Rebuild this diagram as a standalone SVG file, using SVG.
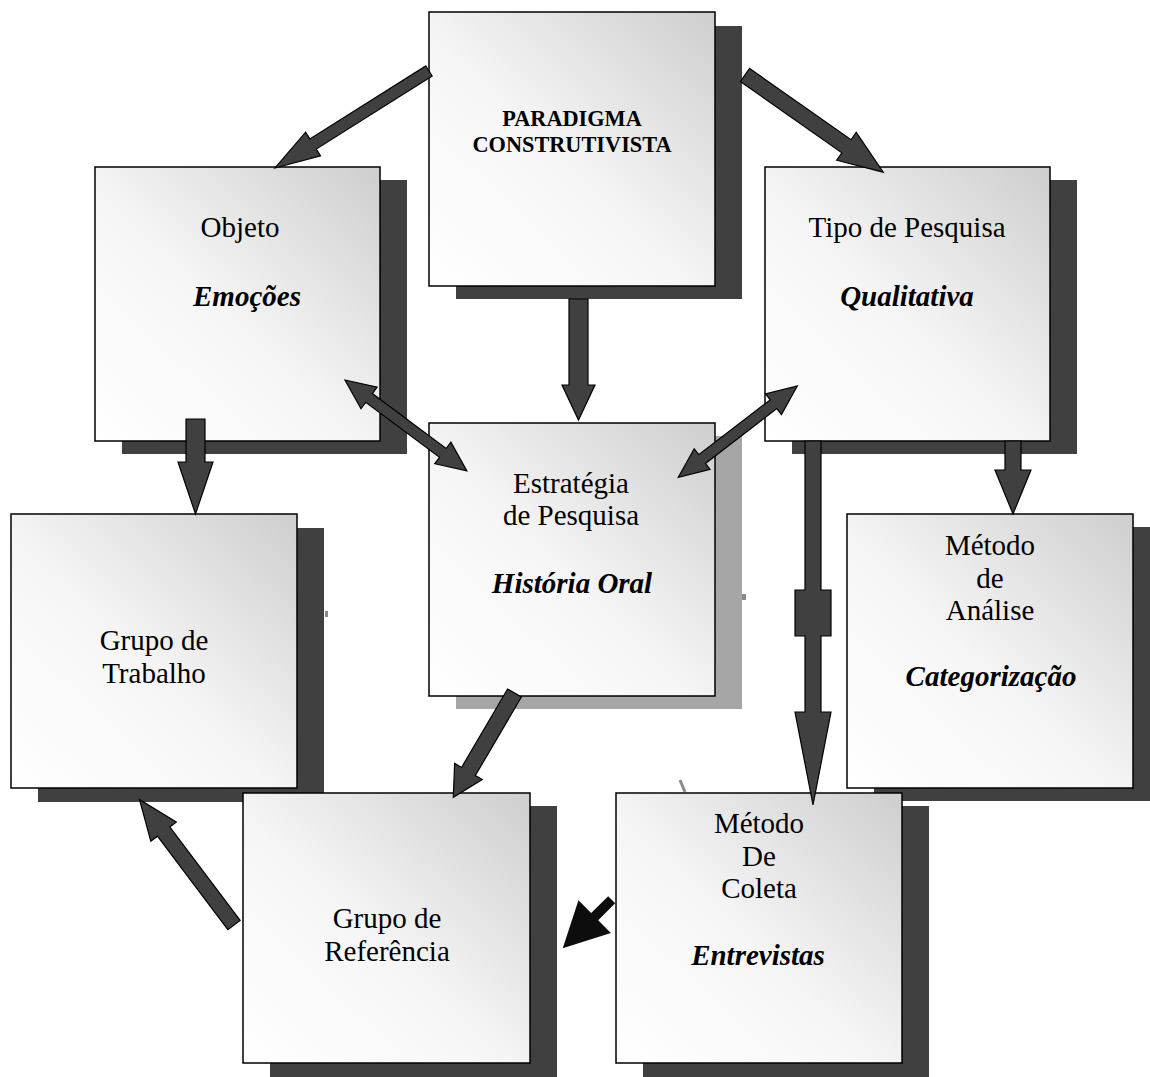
<svg xmlns="http://www.w3.org/2000/svg" width="1150" height="1077" viewBox="0 0 1150 1077">
<defs>
<linearGradient id="g" x1="0" y1="1" x2="1" y2="0">
<stop offset="0" stop-color="#ffffff"/>
<stop offset="0.45" stop-color="#f6f6f6"/>
<stop offset="1" stop-color="#cecece"/>
</linearGradient>
<style>
.sh{fill:#404040}
.shl{fill:#a6a6a6}
.bx{fill:url(#g);stroke:#000;stroke-width:1.5}
.t{font-family:"Liberation Serif","Times New Roman",serif;font-size:29px;fill:#000;text-anchor:middle}
.bi{font-weight:bold;font-style:italic}
.tb{font-family:"Liberation Serif","Times New Roman",serif;font-size:22.3px;font-weight:bold;fill:#000;text-anchor:middle}
.ar{fill:#404040;stroke:#000;stroke-width:1.2;stroke-linejoin:miter}
.ak{fill:#0d0d0d}
.art{fill:#8a8a8a}
</style>
</defs>
<rect width="1150" height="1077" fill="#fff"/>
<g id="marks">
<rect class="art" x="325" y="611" width="3" height="6"/>
<rect class="art" x="742" y="594" width="4" height="6"/>
<line x1="680" y1="780" x2="685" y2="792" stroke="#8a8a8a" stroke-width="3"/>
</g>
<g id="paradigma">
<rect class="sh" x="456" y="26" width="286" height="273"/>
<rect class="bx" x="429" y="12" width="286" height="274"/>
<text class="tb" x="572" y="126">PARADIGMA</text>
<text class="tb" x="572" y="152">CONSTRUTIVISTA</text>
</g>
<g id="objeto">
<rect class="sh" x="122" y="180" width="285" height="274"/>
<rect class="bx" x="95" y="167" width="285" height="274"/>
<text class="t" x="240" y="237">Objeto</text>
<text class="t bi" x="247" y="306">Emoções</text>
</g>
<g id="tipo">
<rect class="sh" x="792" y="180" width="285" height="274"/>
<rect class="bx" x="765" y="167" width="285" height="274"/>
<text class="t" x="907" y="237">Tipo de Pesquisa</text>
<text class="t bi" x="907" y="306">Qualitativa</text>
</g>
<g id="estrategia">
<rect class="shl" x="456" y="436" width="286" height="273"/>
<rect class="bx" x="429" y="423" width="286" height="273"/>
<text class="t" x="571" y="493">Estratégia</text>
<text class="t" x="571" y="525">de Pesquisa</text>
<text class="t bi" x="572" y="593">História Oral</text>
</g>
<g id="trabalho">
<rect class="sh" x="38" y="528" width="286" height="274"/>
<rect class="bx" x="11" y="514" width="286" height="274"/>
<text class="t" x="154" y="650">Grupo de</text>
<text class="t" x="154" y="683">Trabalho</text>
</g>
<g id="analise">
<rect class="sh" x="874" y="527" width="286" height="274"/>
<rect class="bx" x="847" y="514" width="286" height="274"/>
<text class="t" x="990" y="555">Método</text>
<text class="t" x="990" y="588">de</text>
<text class="t" x="990" y="620">Análise</text>
<text class="t bi" x="991" y="686">Categorização</text>
</g>
<g id="referencia">
<rect class="sh" x="270" y="806" width="287" height="271"/>
<rect class="bx" x="243" y="793" width="287" height="270"/>
<text class="t" x="387" y="928">Grupo de</text>
<text class="t" x="387" y="961">Referência</text>
</g>
<g id="coleta">
<rect class="sh" x="643" y="806" width="286" height="271"/>
<rect class="bx" x="616" y="793" width="286" height="270"/>
<text class="t" x="759" y="833">Método</text>
<text class="t" x="759" y="866">De</text>
<text class="t" x="759" y="898">Coleta</text>
<text class="t bi" x="758" y="965">Entrevistas</text>
</g>
<g id="connectors">
<polygon class="ar" transform="translate(429,71) rotate(147.8)" points="0,-6 137,-6 137,-14 182,0 137,14 137,6 0,6"/>
<polygon class="ar" transform="translate(745,75) rotate(35.1)" points="0,-8 124,-8 124,-17 169,0 124,17 124,8 0,8"/>
<polygon class="ar" points="569,299 588,299 588,385 595,385 578.5,420 562,385 569,385"/>
<polygon class="ar" transform="translate(345,380) rotate(36.7)" points="0,0 30,-13.5 30,-5.5 122,-5.5 122,-13.5 152,0 122,13.5 122,5.5 30,5.5 30,13.5"/>
<polygon class="ar" transform="translate(678.3,477.3) rotate(-37.5)" points="0,0 30,-13 30,-5.5 120,-5.5 120,-13 150,0 120,13 120,5.5 30,5.5 30,13"/>
<polygon class="ar" points="186,419 205,419 205,462 213,462 195.5,514 178,462 186,462"/>
<polygon class="ar" points="1005,441 1021,441 1021,470 1031,470 1013,514 995,470 1005,470"/>
<polygon class="ar" points="805,441 821,441 821,590 831,590 831,636 821,636 821,712 831,712 813,805 795,712 805,712 805,636 795,636 795,590 805,590"/>
<polygon class="ar" transform="translate(514.5,693) rotate(120.4)" points="0,-8 91,-8 91,-16 121,0 91,16 91,8 0,8"/>
<polygon class="ar" transform="translate(234,925) rotate(-127)" points="0,-7.7 117,-7.7 117,-16 157,0 117,16 117,7.7 0,7.7"/>
<polygon class="ak" transform="translate(611.7,899.7) rotate(135.2)" points="0,-5 24,-5 24,-23 69,0 24,23 24,5 0,5"/>
</g>
</svg>
